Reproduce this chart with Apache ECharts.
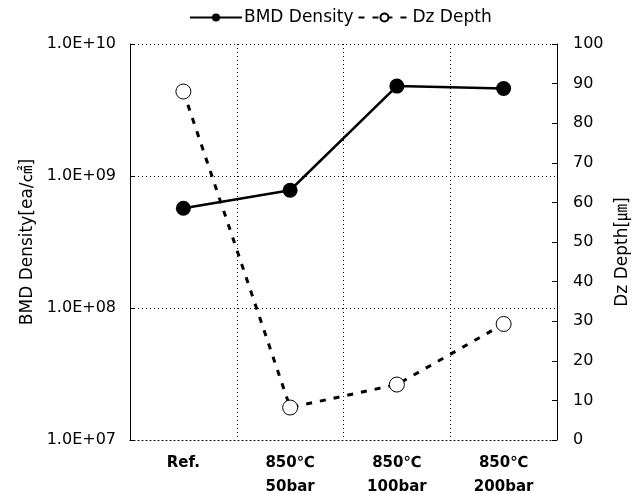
<!DOCTYPE html>
<html><head><meta charset="utf-8">
<script src="https://cdn.jsdelivr.net/npm/echarts@6/dist/echarts.min.js"></script>
<style>html,body{margin:0;padding:0;background:#fff}#c{width:639px;height:494px}</style>
</head><body><div id="c"></div>
<script>
const categories = ['Ref.', '850℃\n50bar', '850℃\n100bar', '850℃\n200bar'];
const bmdDensity = [5.7e8, 7.8e8, 4.8e9, 4.6e9];
const dzDepth = [88, 8.2, 14, 29.3];
const seriesNames = ['BMD Density', 'Dz Depth'];
const leftName = 'BMD Density[ea/㎠]';
const rightName = 'Dz Depth[㎛]';

const FONT = '"DejaVu Sans", "Noto Sans CJK KR", sans-serif';
const DOT = { color: '#000', type: [1, 3], width: 1 };
const chart = echarts.init(document.getElementById('c'));
chart.setOption({
  animation: false,
  backgroundColor: '#fff',
  textStyle: { fontFamily: FONT, color: '#000' },
  legend: {
    top: 4, left: 184,
    itemWidth: 52, itemHeight: 10, itemGap: 4,
    textStyle: { fontSize: 17, color: '#000', fontFamily: FONT, padding: [0, 0, 0, -3] },
    data: seriesNames
  },
  grid: { left: 130, right: 82, top: 44, bottom: 54, containLabel: false, outerBoundsMode: 'none' },
  xAxis: {
    type: 'category', data: categories, boundaryGap: true,
    axisLine: { lineStyle: DOT },
    axisTick: { show: false },
    splitLine: { show: true, lineStyle: DOT },
    axisLabel: { fontSize: 15, fontWeight: 'bold', color: '#000', lineHeight: 24, margin: 11, fontFamily: FONT }
  },
  yAxis: [{
    type: 'log', logBase: 10, min: 1e7, max: 1e10, position: 'left',
    name: leftName, nameLocation: 'middle', nameGap: 92, nameRotate: 90,
    nameTextStyle: { fontSize: 17, color: '#000', fontFamily: FONT },
    axisLine: { show: true, lineStyle: { color: '#000', width: 1 } },
    axisTick: { show: true, inside: true, length: 4, lineStyle: { color: '#000' } },
    minorTick: { show: false },
    splitLine: { show: true, lineStyle: DOT },
    axisLabel: {
      fontSize: 16, color: '#000', margin: 14, fontFamily: FONT,
      formatter: v => { const e = Math.round(Math.log10(v)); return '1.0E+' + (e < 10 ? '0' + e : e); }
    }
  }, {
    type: 'value', min: 0, max: 100, interval: 10, position: 'right',
    name: rightName, nameLocation: 'middle', nameGap: 56, nameRotate: 90,
    nameTextStyle: { fontSize: 17, color: '#000', fontFamily: FONT, padding: [0, 20, 0, 0] },
    axisLine: { show: true, lineStyle: { color: '#000', width: 1 } },
    axisTick: { show: true, inside: true, length: 5, lineStyle: { color: '#000' } },
    splitLine: { show: false },
    axisLabel: { fontSize: 16, color: '#000', margin: 16, fontFamily: FONT }
  }],
  series: [{
    name: seriesNames[0], type: 'line', yAxisIndex: 0, data: bmdDensity,
    symbol: 'circle', symbolSize: 15,
    itemStyle: { color: '#000' },
    lineStyle: { color: '#000', width: 2.5 }
  }, {
    name: seriesNames[1], type: 'line', yAxisIndex: 1, data: dzDepth,
    symbol: 'circle', symbolSize: 15,
    itemStyle: { color: '#fff', borderColor: '#000', borderWidth: 1 },
    lineStyle: { color: '#000', width: 3, type: [6, 8] },
    z: 3
  }]
});
</script></body></html>
